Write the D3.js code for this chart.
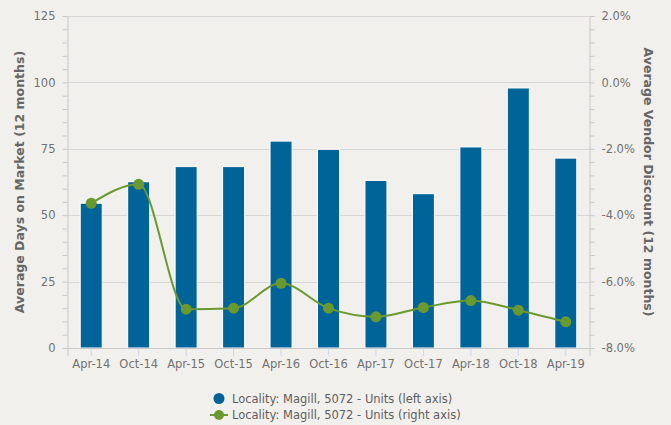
<!DOCTYPE html>
<html>
<head>
<meta charset="utf-8">
<script src="https://cdn.jsdelivr.net/npm/d3@7/dist/d3.min.js"></script>
<style>
  html, body { margin: 0; padding: 0; background: #f1f0ec; }
  svg { display: block; font-family: "DejaVu Sans", sans-serif; }
</style>
</head>
<body>
<svg id="chart" width="671" height="425"></svg>
<script>
const categories = ["Apr-14","Oct-14","Apr-15","Oct-15","Apr-16","Oct-16","Apr-17","Oct-17","Apr-18","Oct-18","Apr-19"];
const daysOnMarket = [54.5, 62.6, 68.3, 68.3, 77.9, 74.8, 63.1, 58.1, 75.7, 97.9, 71.5];
const vendorDiscount = [-3.64, -3.07, -6.83, -6.80, -6.05, -6.80, -7.06, -6.78, -6.57, -6.86, -7.21];
const leftTicks = [0, 25, 50, 75, 100, 125];
const rightTicks = [-8, -6, -4, -2, 0, 2];
const legendLabels = ["Locality: Magill, 5072 - Units (left axis)", "Locality: Magill, 5072 - Units (right axis)"];

const barColor = "#006499";
const lineColor = "#6a9a2f";
const textColor = "#727272";
const titleColor = "#666666";
const gridColor = "#d6d6d6";

const svg = d3.select("#chart");
const m = { left: 67.5, right: 589.5, top: 16, bottom: 348 };

const x = d3.scaleBand().domain(categories).range([m.left, m.right]).paddingInner(0).paddingOuter(0);
const yL = d3.scaleLinear().domain([0, 125]).range([m.bottom, m.top]);
const yR = d3.scaleLinear().domain([-8, 2]).range([m.bottom, m.top]);

// gridlines
svg.append("g").selectAll("line").data(leftTicks).join("line")
  .attr("x1", m.left).attr("x2", m.right)
  .attr("y1", d => Math.round(yL(d)) + 0.5).attr("y2", d => Math.round(yL(d)) + 0.5)
  .attr("stroke", gridColor).attr("stroke-width", 1);

// left axis
const gLeft = svg.append("g").attr("transform", `translate(${m.left},0)`)
  .call(d3.axisLeft(yL).tickValues(leftTicks).tickSize(0).tickPadding(12));
gLeft.select(".domain").attr("stroke", "#c8c8c8");
gLeft.selectAll("text").attr("fill", textColor).attr("font-size", 11.5).attr("font-family", "DejaVu Sans");
svg.append("g").attr("transform", `translate(${m.left},0)`)
  .call(d3.axisLeft(yL).tickValues(d3.range(0, 126, 5)).tickSize(5).tickFormat(""))
  .call(g => g.select(".domain").remove())
  .selectAll("line").attr("stroke", "#c8c8c8");

// right axis
const gRight = svg.append("g").attr("transform", `translate(${m.right},0)`)
  .call(d3.axisRight(yR).tickValues(rightTicks).tickSize(0).tickPadding(12).tickFormat(d => d.toFixed(1) + "%"));
gRight.select(".domain").attr("stroke", "#c8c8c8");
gRight.selectAll("text").attr("fill", textColor).attr("font-size", 11.5).attr("font-family", "DejaVu Sans");
svg.append("g").attr("transform", `translate(${m.right},0)`)
  .call(d3.axisRight(yR).tickValues(d3.range(-8, 2.01, 0.4)).tickSize(5).tickFormat(""))
  .call(g => g.select(".domain").remove())
  .selectAll("line").attr("stroke", "#c8c8c8");

// bars
const barW = 22;
svg.append("g").selectAll("rect").data(daysOnMarket).join("rect")
  .attr("x", (d, i) => x(categories[i]) + x.bandwidth() / 2 - barW / 2)
  .attr("y", d => yL(d))
  .attr("width", barW)
  .attr("height", d => yL(0) - yL(d))
  .attr("fill", barColor)
  .attr("stroke", "#ffffff").attr("stroke-width", 1);

// bottom axis
const gBottom = svg.append("g").attr("transform", `translate(0,${m.bottom})`)
  .call(d3.axisBottom(x).tickSize(8).tickPadding(4));
gBottom.select(".domain").attr("stroke", "#c8c8c8");
gBottom.selectAll(".tick line").attr("stroke", "#ccd6eb");
gBottom.selectAll("text").attr("fill", textColor).attr("font-size", 11.5).attr("font-family", "DejaVu Sans");

// line
const cx = (d, i) => x(categories[i]) + x.bandwidth() / 2;
const line = d3.line().x((d, i) => cx(d, i)).y(d => yR(d)).curve(d3.curveMonotoneX);
svg.append("path").datum(vendorDiscount)
  .attr("d", line).attr("fill", "none").attr("stroke", lineColor).attr("stroke-width", 2);
svg.append("g").selectAll("circle").data(vendorDiscount).join("circle")
  .attr("cx", (d, i) => cx(d, i)).attr("cy", d => yR(d)).attr("r", 5.5)
  .attr("fill", lineColor);

// axis titles
svg.append("text")
  .attr("transform", `translate(23.5,${(m.top + m.bottom) / 2}) rotate(-90)`)
  .attr("text-anchor", "middle").attr("font-weight", "bold").attr("font-size", 12.5)
  .attr("fill", titleColor).text("Average Days on Market (12 months)");
svg.append("text")
  .attr("transform", `translate(644,${(m.top + m.bottom) / 2}) rotate(90)`)
  .attr("text-anchor", "middle").attr("font-weight", "bold").attr("font-size", 12.5)
  .attr("fill", titleColor).text("Average Vendor Discount (12 months)");

// legend
const lg = svg.append("g");
const rows = [398.5, 415];
lg.append("circle").attr("cx", 219).attr("cy", rows[0]).attr("r", 5.5).attr("fill", barColor);
lg.append("line").attr("x1", 210).attr("x2", 228).attr("y1", rows[1]).attr("y2", rows[1])
  .attr("stroke", lineColor).attr("stroke-width", 2);
lg.append("circle").attr("cx", 219).attr("cy", rows[1]).attr("r", 5).attr("fill", lineColor);
lg.selectAll("text").data(legendLabels).join("text")
  .attr("x", 232).attr("y", (d, i) => rows[i] + 4)
  .attr("font-size", 11.5).attr("fill", "#5f5f5f").text(d => d);
</script>
</body>
</html>
